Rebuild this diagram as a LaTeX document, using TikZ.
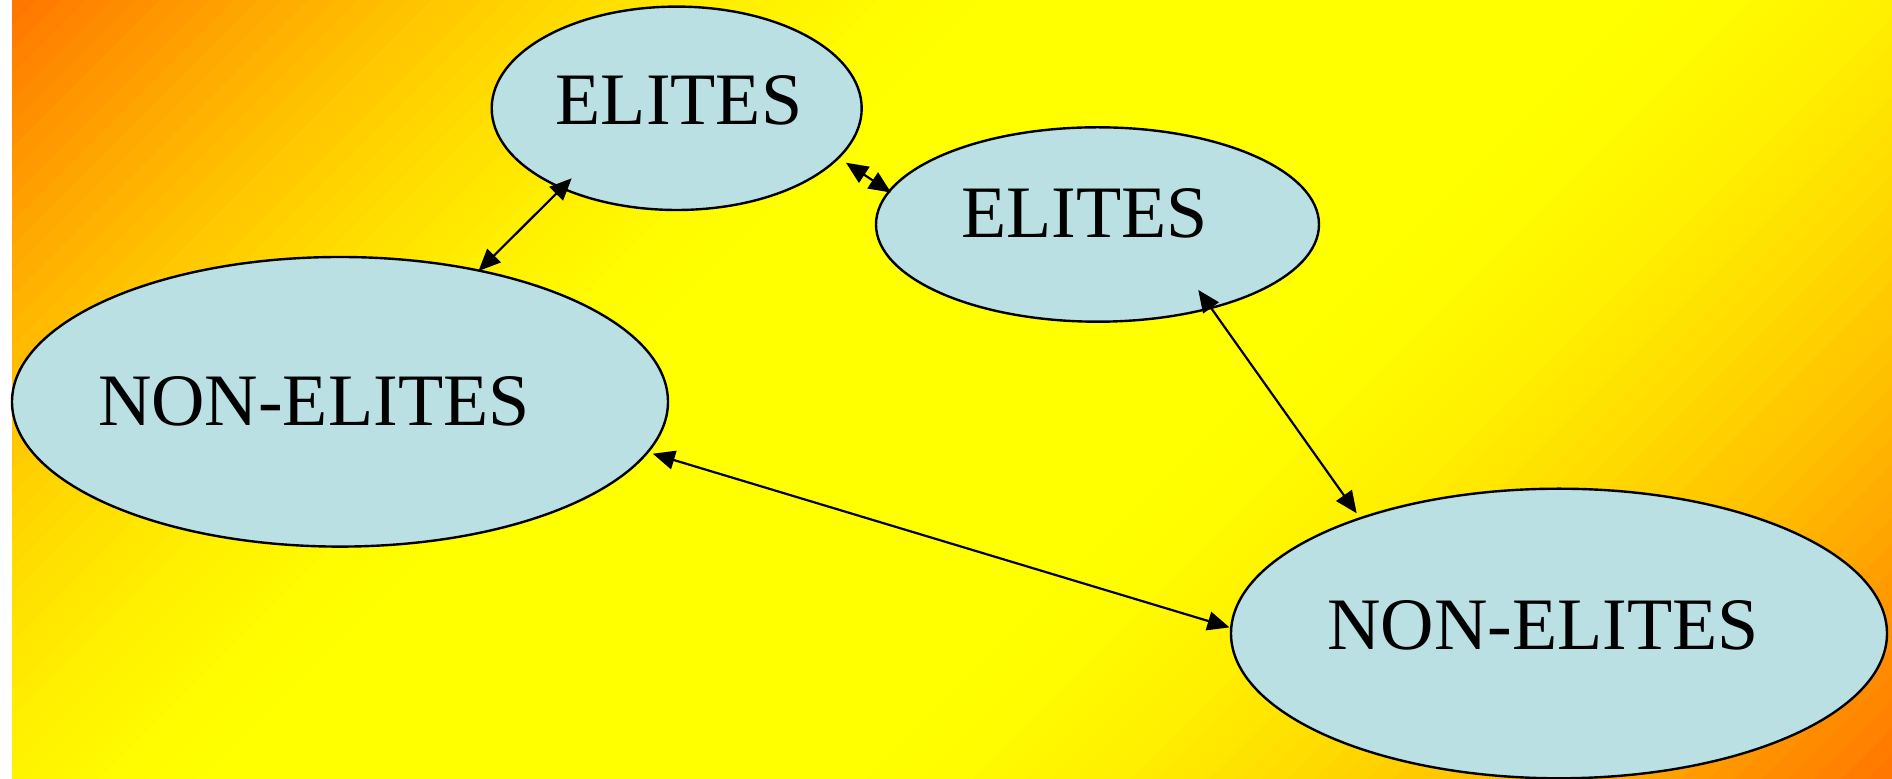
\documentclass[tikz,border=0pt]{standalone}
\usepackage{fontspec}
\setmainfont{Liberation Serif}
\usetikzlibrary{arrows.meta,shapes.geometric}

\definecolor{bgorange}{RGB}{255,116,0}
\definecolor{bgyellow}{RGB}{255,255,0}
\definecolor{groupblue}{RGB}{186,224,227}

\tikzset{
  group/.style={ellipse, draw=black, line width=1.2pt, fill=groupblue, inner sep=0pt, outer sep=0pt},
  grouplabel/.style={font=\fontsize{37}{44}\selectfont, inner sep=0pt},
  link/.style={{Triangle[length=11pt,width=9.5pt]}-{Triangle[length=11pt,width=9.5pt]}, line width=1.1pt}
}

\begin{document}
\begin{tikzpicture}[x=0.5pt, y=-0.5pt]
    \useasboundingbox (0,0) rectangle (1892,779);
    % background
    \fill[white] (0,0) rectangle (1892,779);
    \begin{scope}
      \clip (12,0) rectangle (1892,779);
      \fill[bgyellow] (12,0) rectangle (1892,779);
      % upper left ramp
      \foreach \i in {0,...,39} {
        \pgfmathsetmacro{\ta}{12+\i*24.7}
        \pgfmathsetmacro{\tb}{\ta+26}
        \pgfmathsetmacro{\p}{100*(1-(1-(\i+0.5)/40)^1.6)}
        \fill[bgyellow!\p!bgorange] (\ta,0) -- (\tb,0) -- (\tb-779,779) -- (\ta-779,779) -- cycle;
      }
      % lower right ramp
      \foreach \i in {0,...,39} {
        \pgfmathsetmacro{\tb}{2672-\i*26.3}
        \pgfmathsetmacro{\ta}{\tb-27.5}
        \pgfmathsetmacro{\p}{100*(1-(1-(\i+0.5)/40)^1.6)}
        \fill[bgyellow!\p!bgorange] (\ta,0) -- (\tb,0) -- (\tb-779,779) -- (\ta-779,779) -- cycle;
      }
    \end{scope}
    % groups
    \node[group, minimum width=185pt, minimum height=101.7pt] (elitesA) at (676.7,108.3) {};
    \node[group, minimum width=221.5pt, minimum height=97.2pt] (elitesB) at (1097.5,224.5) {};
    \node[group, minimum width=328pt, minimum height=144.8pt] (nonelitesA) at (340,401.8) {};
    \node[group, minimum width=328pt, minimum height=144.8pt] (nonelitesB) at (1559,633.5) {};
    % labels
    \node[grouplabel] (elitesAlbl) at (679,100.5) {ELITES};
    \node[grouplabel] (elitesBlbl) at (1084.7,213.8) {ELITES};
    \node[grouplabel] (nonelitesAlbl) at (313.8,401.8) {NON-ELITES};
    \node[grouplabel] (nonelitesBlbl) at (1543,625.6) {NON-ELITES};
    % links
    \draw[link] ([shift={(-105,70)}]elitesA.center) -- ([shift={(138.5,-130.8)}]nonelitesA.center);
    \draw[link] ([shift={(169.3,54.4)}]elitesA.center) -- ([shift={(-206.5,-32)}]elitesB.center);
    \draw[link] ([shift={(100.8,65.5)}]elitesB.center) -- ([shift={(-202.3,-120.2)}]nonelitesB.center);
    \draw[link] ([shift={(312.8,51.9)}]nonelitesA.center) -- ([shift={(-329.5,-6.1)}]nonelitesB.center);
\end{tikzpicture}
\end{document}
